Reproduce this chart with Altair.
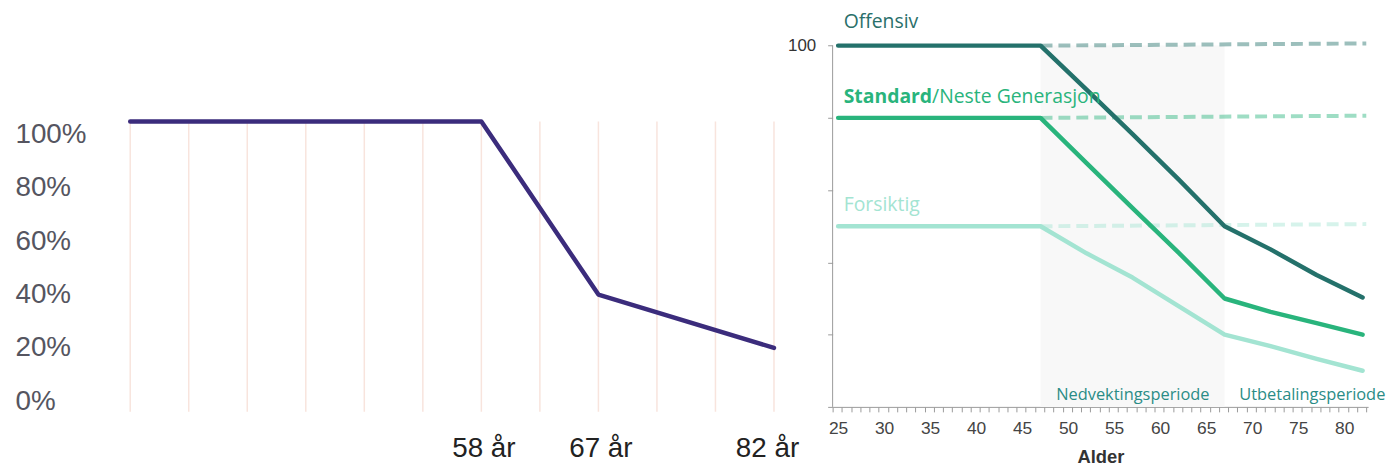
import altair as alt
import pandas as pd

# ---------------- Left chart data ----------------
left_idx = [0, 6, 8, 11]            # positions on the age grid
left_share = [105, 105, 40, 20]      # equity share (%)
left_grid_idx = list(range(12))
left_tick_idx = [6, 8, 11]
left_tick_text = ["58 år", "67 år", "82 år"]
left_y_ticks = [0, 20, 40, 60, 80, 100]

# ---------------- Right chart data ----------------
series_names = ["Offensiv", "Standard", "Forsiktig"]
series_colors = ["#24716b", "#29b47c", "#a3e4d2"]
ages = [25, 47, 52, 57, 62, 67, 72, 77, 82]
off_val = [100, 100, 87.8, 75.5, 63, 50, 43.6, 36.5, 30.3]
std_val = [80, 80, 67.5, 55, 42.7, 30, 26.3, 23.2, 20]
for_val = [50, 50, 42.5, 35.8, 27.9, 20, 16.8, 13.3, 10]
dash_age = [47, 82.4]
off_dash = [100, 100.6]
std_dash = [80, 80.6]
for_dash = [50, 50.6]
band_start, band_end = [47], [67]
right_y_ticks = [0, 20, 40, 60, 80, 100]
x_tick_pos = [round(24.4 + k, 1) for k in range(59)]

# ---------------- Left chart ----------------
xl = alt.Scale(domain=[-0.153, 11.153], nice=False, zero=False)
yl = alt.Scale(domain=[-4, 147], nice=False, zero=False)

x_expr = " : ".join(f"datum.value == {i} ? '{t}'" for i, t in zip(left_tick_idx, left_tick_text)) + " : ''"
ax_lx = alt.Axis(
    values=left_tick_idx, labelExpr=x_expr, ticks=False, domain=False, grid=False,
    labelFont="Liberation Sans", labelFontSize=28, labelColor="#222222",
    labelPadding=23, labelFlush=False, labelOverlap=False, title=None,
    labelOffset={"condition": {"test": f"datum.value == {left_tick_idx[-1]}", "value": -7}, "value": 2})
ax_ly = alt.Axis(
    values=left_y_ticks, labelExpr="datum.value + '%'", ticks=False, domain=False, grid=False,
    labelAlign="left", labelPadding=107, labelFont="Liberation Sans", labelFontSize=28,
    labelColor="#555560", labelOverlap=False, title=None)

grid_df = pd.DataFrame({"i": left_grid_idx, "lo": -4, "hi": left_share[0]})
left_grid = alt.Chart(grid_df).mark_rule(color="#f8e4dd", strokeWidth=1.5).encode(
    x=alt.X("i:Q", scale=xl, axis=ax_lx),
    y=alt.Y("lo:Q", scale=yl, axis=ax_ly),
    y2="hi:Q",
)

left_line = alt.Chart(pd.DataFrame({"i": left_idx, "v": left_share})).mark_line(
    color="#3b2c7c", strokeWidth=4.5, strokeCap="round", strokeJoin="round"
).encode(
    x=alt.X("i:Q", scale=xl, axis=ax_lx),
    y=alt.Y("v:Q", scale=yl, axis=ax_ly),
)
left = alt.layer(left_grid, left_line).properties(width=666, height=405)

# ---------------- Right chart ----------------
xr = alt.Scale(domain=[24.4, 82.6], nice=False, zero=False)
yr = alt.Scale(domain=[0, 110], nice=False, zero=False)
color_scale = alt.Scale(domain=series_names, range=series_colors)

x_label_expr = ("(abs((datum.value + 0.6) % 5) < 0.01 || abs((datum.value + 0.6) % 5 - 5) < 0.01)"
                " ? format(datum.value + 0.6, 'd') : ''")
ax_rx = alt.Axis(
    values=x_tick_pos, labelExpr=x_label_expr, labelOffset=5.5, tickSize=5,
    tickColor="#9a9a9a", domainColor="#9a9a9a", grid=False,
    labelFont="Liberation Sans", labelFontSize=17.5, labelColor="#444444",
    labelPadding=8, labelFlush=False, labelOverlap=False, labelBound=False,
    title="Alder", titleFont="Liberation Sans", titleFontSize=18.5,
    titleFontWeight="bold", titleColor="#333333", titlePadding=10)
ax_ry = alt.Axis(
    values=right_y_ticks, labelExpr="datum.value == 100 ? '100' : ''", tickSize=5,
    tickColor="#9a9a9a", domain=False, grid=False, labelPadding=12,
    labelFont="Liberation Sans", labelFontSize=17, labelColor="#333333",
    labelOverlap=False, title=None)

band = alt.Chart(pd.DataFrame({"a": band_start, "b": band_end, "lo": [0], "hi": [100]})).mark_rect(
    color="#f8f8f8"
).encode(
    x=alt.X("a:Q", scale=xr, axis=ax_rx), x2="b:Q",
    y=alt.Y("lo:Q", scale=yr, axis=ax_ry), y2="hi:Q",
)

yaxis_line = alt.Chart(pd.DataFrame({"lo": [0], "hi": [100]})).mark_rule(
    color="#9a9a9a", strokeWidth=1
).encode(
    x=alt.value(0),
    y=alt.Y("lo:Q", scale=yr, axis=ax_ry), y2="hi:Q",
)

dash_rows = []
for name, vals in zip(series_names, [off_dash, std_dash, for_dash]):
    for a, v in zip(dash_age, vals):
        dash_rows.append({"age": a, "val": v, "s": name})
dashed = alt.Chart(pd.DataFrame(dash_rows)).mark_line(
    strokeWidth=4, strokeDash=[12, 6], opacity=0.45
).encode(
    x=alt.X("age:Q", scale=xr, axis=ax_rx),
    y=alt.Y("val:Q", scale=yr, axis=ax_ry),
    color=alt.Color("s:N", scale=color_scale, legend=None),
    detail="s:N",
)

line_rows = []
for name, vals in zip(series_names, [off_val, std_val, for_val]):
    for a, v in zip(ages, vals):
        line_rows.append({"age": a, "val": v, "s": name})

solid = alt.Chart(pd.DataFrame(line_rows)).mark_line(
    strokeWidth=4.5, strokeCap="round", strokeJoin="round"
).encode(
    x=alt.X("age:Q", scale=xr, axis=ax_rx),
    y=alt.Y("val:Q", scale=yr, axis=ax_ry),
    color=alt.Color("s:N", scale=color_scale, legend=None),
    detail="s:N",
)


def label_layer(texts, xs, ys, color, size, weight="normal", dx=0):
    df = pd.DataFrame({"t": texts, "x": xs, "y": ys})
    return alt.Chart(df).mark_text(
        align="left", baseline="middle", font="Open Sans", fontSize=size,
        fontWeight=weight, color=color, dx=dx
    ).encode(
        x=alt.X("x:Q", scale=xr, axis=ax_rx),
        y=alt.Y("y:Q", scale=yr, axis=ax_ry),
        text="t:N",
    )


t_off = label_layer(["Offensiv"], [25.6], [106.4], "#2a6f6a", 19.5)
t_std_b = label_layer(["Standard"], [25.6], [85.8], "#29b47c", 19.5, weight="bold")
t_std_n = label_layer(["/Neste Generasjon"], [25.6], [85.8], "#29b47c", 19.5, dx=89)
t_for = label_layer(["Forsiktig"], [25.6], [55.8], "#a3e4d2", 19.5)
t_per = label_layer(["Nedvektingsperiode", "Utbetalingsperiode"], [48.7, 68.6], [3.4, 3.4],
                    "#2a8c86", 16.5)

right = alt.layer(band, yaxis_line, dashed, solid, t_off, t_std_b, t_std_n, t_for, t_per).properties(
    width=539, height=400
)

chart = alt.hconcat(left, right, spacing=50, bounds="flush").properties(
    padding={"left": 7, "top": 0, "right": 0, "bottom": 0},
    background="white",
).configure_view(stroke=None)

chart.save("out.html", embed_options={"renderer": "svg", "actions": False})
